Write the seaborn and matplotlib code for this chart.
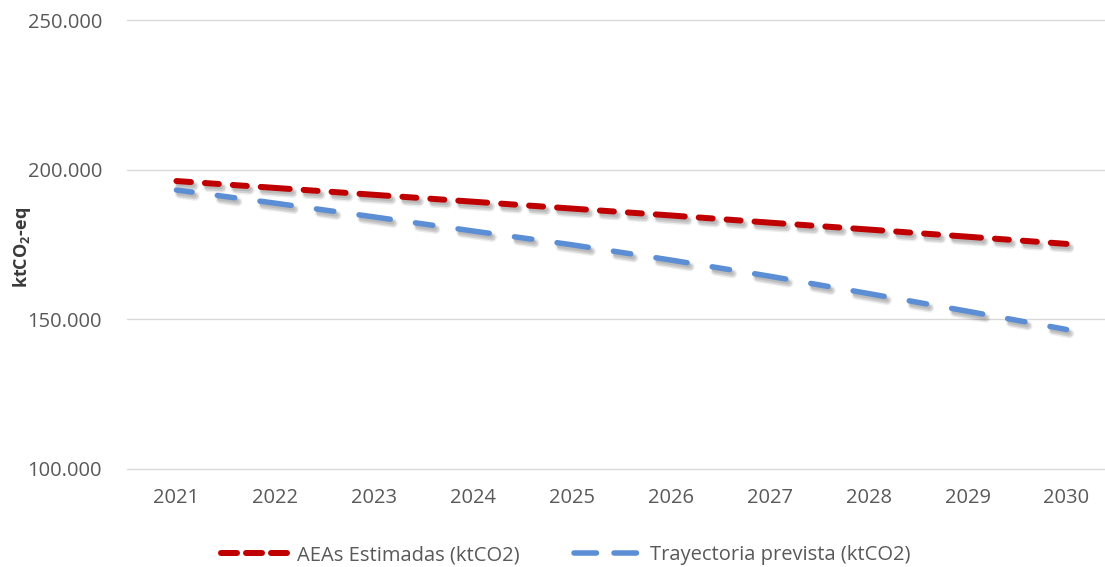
import matplotlib
matplotlib.use("Agg")
import matplotlib.pyplot as plt
import matplotlib.patheffects as pe
from matplotlib.lines import Line2D
from matplotlib.ticker import FuncFormatter
import seaborn as sns
import pandas as pd

years = [2021, 2022, 2023, 2024, 2025, 2026, 2027, 2028, 2029, 2030]
aeas_estimadas = [196200, 193900, 191600, 189300, 187000, 184700, 182300, 180000, 177600, 175200]
trayectoria_prevista = [193200, 188800, 184200, 179500, 174900, 169800, 164400, 158600, 152700, 146600]
series_labels = ["AEAs Estimadas (ktCO2)", "Trayectoria prevista (ktCO2)"]
y_ticks = [100000, 150000, 200000, 250000]

sns.set_theme(style="white")
plt.rcParams["font.family"] = ["Open Sans", "DejaVu Sans"]
plt.rcParams["mathtext.fontset"] = "custom"
plt.rcParams["mathtext.rm"] = "Open Sans"
plt.rcParams["mathtext.bf"] = "Open Sans:bold"

W, H, DPI = 1105, 567, 100
fig = plt.figure(figsize=(W / DPI, H / DPI), dpi=DPI)
ax = fig.add_axes([127 / W, 1 - 469 / H, (1116 - 127) / W, (469 - 20) / H])

df = pd.DataFrame({"year": years, "aeas": aeas_estimadas, "tray": trayectoria_prevista})

RED = "#C00000"
BLUE = "#5B8ED4"
px = 72 / DPI  # points per pixel

def shadow(lw):
    return [
        pe.SimpleLineShadow(offset=(3 * px, -4 * px), shadow_color="#000000", alpha=0.07,
                            linewidth=lw + 4 * px),
        pe.SimpleLineShadow(offset=(3 * px, -4 * px), shadow_color="#000000", alpha=0.12,
                            linewidth=lw + 1 * px),
        pe.SimpleLineShadow(offset=(2 * px, -3 * px), shadow_color="#000000", alpha=0.10,
                            linewidth=lw - 1 * px),
        pe.Normal(),
    ]

red_lw = 6 * px
blue_lw = 5.5 * px
# dash patterns (in linewidth units), long dash centred on each year
red_ls = (14.5 / 6, (29 / 6, 14 / 6, 14 / 6, 14 / 6, 14 / 6, 14 / 6))
blue_ls = (15.75 / 5.5, (31.5 / 5.5, 25.5 / 5.5, 17.5 / 5.5, 25.5 / 5.5))

sns.lineplot(data=df, x="year", y="aeas", ax=ax, color=RED, lw=red_lw, ls=red_ls,
             dash_capstyle="round", path_effects=shadow(red_lw), zorder=3)
sns.lineplot(data=df, x="year", y="tray", ax=ax, color=BLUE, lw=blue_lw, ls=blue_ls,
             dash_capstyle="round", path_effects=shadow(blue_lw), zorder=3)

ax.set_xlim(2020.5, 2030.5)
ax.set_ylim(100000, 250000)
ax.set_yticks(y_ticks)
ax.set_xticks(years)
ax.yaxis.set_major_formatter(FuncFormatter(lambda v, p: f"{int(v):,}".replace(",", ".")))
ax.grid(axis="y", color="#D9D9D9", lw=1.4 * px)
ax.grid(axis="x", visible=False)
for gl in ax.get_ygridlines():
    gl.set_clip_on(False)
for s in ax.spines.values():
    s.set_visible(False)
ax.tick_params(axis="y", length=0, pad=25 * px, labelsize=14.5, labelcolor="#595959")
ax.tick_params(axis="x", length=0, pad=19 * px, labelsize=14.5, labelcolor="#595959")
ax.set_xlabel("")
ax.set_ylabel("")

fig.text(22 / W, 1 - 247 / H, r"ktCO$\mathbf{_2}$-eq", rotation=90, ha="center", va="center",
         fontsize=13, fontweight="bold", color="#3A3A3A")

handles = [
    Line2D([], [], color=RED, lw=red_lw, ls=(0, (16 / 6, 9 / 6)), dash_capstyle="round"),
    Line2D([], [], color=BLUE, lw=blue_lw, ls=(0, (22.5 / 5.5, 17.5 / 5.5)), dash_capstyle="round"),
]
fs = 14.5
fpx = fs / px
fig.legend(handles, series_labels, loc="center", bbox_to_anchor=(566 / W, 1 - 555 / H),
           ncol=2, frameon=False, fontsize=fs, labelcolor="#595959",
           handlelength=68 / fpx, handletextpad=8 / fpx, columnspacing=54 / fpx,
           borderpad=0, borderaxespad=0)

fig.savefig("out.png", dpi=DPI)
